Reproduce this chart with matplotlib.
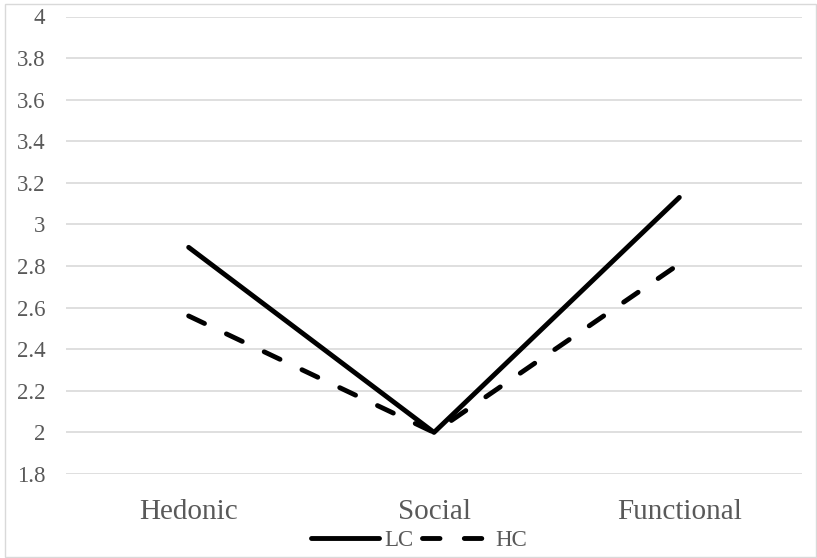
import matplotlib
matplotlib.use("Agg")
import matplotlib.pyplot as plt
from matplotlib.patches import Rectangle

categories = ["Hedonic", "Social", "Functional"]
lc_values = [2.89, 2.00, 3.13]
hc_values = [2.56, 2.00, 2.81]
y_ticks = [1.8, 2.0, 2.2, 2.4, 2.6, 2.8, 3.0, 3.2, 3.4, 3.6, 3.8, 4.0]
y_labels = ["1.8", "2", "2.2", "2.4", "2.6", "2.8", "3", "3.2", "3.4", "3.6", "3.8", "4"]

plt.rcParams['font.family'] = ['Liberation Serif', 'DejaVu Serif']

W, H = 817, 558
fig = plt.figure(figsize=(W / 100, H / 100), dpi=100)
fig.patch.set_facecolor("white")
fig.patches.append(Rectangle((5 / W, 1 - 557 / H), 811 / W, 553 / H, transform=fig.transFigure,
                             fill=False, edgecolor="#d9d9d9", linewidth=1.0))

ax = fig.add_axes([66 / W, 1 - 474 / H, 736 / W, (474 - 16.5) / H])
x = list(range(len(categories)))
lw = 3.5
ax.plot(x, lc_values, color="black", linewidth=lw, solid_capstyle="round", solid_joinstyle="round",
        label="LC", zorder=3)
ax.plot(x, hc_values, color="black", linewidth=lw, dashes=(3.6, 5.0), dash_capstyle="round",
        label="HC", zorder=3)

ax.set_xlim(-0.5, 2.5)
ax.set_ylim(1.8, 4.0)
ax.set_yticks(y_ticks)
ax.set_yticklabels(y_labels)
ax.set_xticks(x)
ax.set_xticklabels(categories)
ax.grid(axis="y", color="#d9d9d9", linewidth=1.2)
ax.set_axisbelow(True)
for s in ax.spines.values():
    s.set_visible(False)
ax.tick_params(axis="y", length=0, pad=15, labelsize=16.5, labelcolor="#595959")
ax.tick_params(axis="x", length=0, pad=18, labelsize=21, labelcolor="#595959")

leg = fig.legend(loc="center", bbox_to_anchor=(419 / W, 1 - 540 / H), ncol=2, frameon=False,
                 fontsize=16.5, handlelength=3.0, handletextpad=0.2, columnspacing=0.4,
                 labelcolor="#595959")

fig.savefig("out.png", dpi=100, facecolor="white")
